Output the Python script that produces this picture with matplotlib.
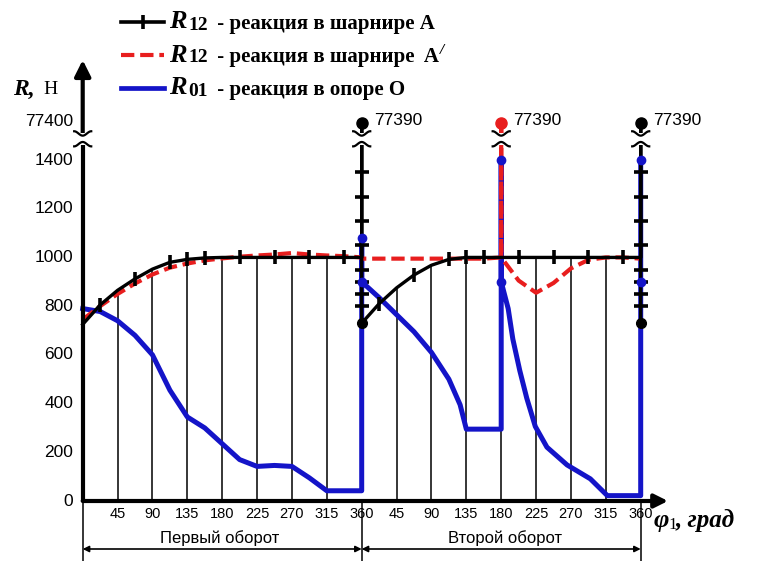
import numpy as np
import matplotlib
matplotlib.use('Agg')
import matplotlib.pyplot as plt
from matplotlib.patches import Rectangle

# ---- data ----
phi_deg = [0, 22.5, 45, 67.5, 90, 112.5, 135, 157.5, 180,
           202.5, 225, 247.5, 270, 292.5, 315, 337.5, 360]

# R12 - reaction in joint A (black)
r12_a_rev1 = [725, 805, 865, 912, 952, 980, 992, 998, 1000,
              1000, 1000, 1000, 1000, 1000, 1000, 1000, 1000]
r12_a_rev2 = [730, 810, 875, 928, 968, 992, 1000, 1000, 1000,
              1000, 1000, 1000, 1000, 1000, 1000, 1000, 1000]
r12_a_marks = [1350, 1250, 1150, 1050, 950, 900, 850, 800]

# R12 - reaction in joint A' (red)
r12_a1_rev1 = [745, 800, 850, 893, 930, 958, 975, 988, 996,
               1003, 1008, 1012, 1018, 1012, 1008, 1005, 1000]
r12_a1_rev2 = [995, 995, 995, 995, 995, 995, 995, 995, 1000,
               905, 855, 895, 955, 990, 1000, 1000, 995]

# R01 - reaction in support O (blue)
r01_rev1 = [790, 778, 740, 680, 600, 455, 345, 300, 235,
            170, 142, 146, 142, 95, 42, 42, 42]
r01_jump_360 = 1080
phi_o_rev2 = [0, 22.5, 45, 67.5, 90, 112.5, 127, 135, 180, 180, 180,
              189, 195, 204, 213, 224, 239, 265, 295, 317, 360, 360]
r01_rev2 = [900, 835, 765, 695, 610, 500, 395, 295, 295, 1400, 900,
            790, 665, 535, 422, 306, 221, 148, 91, 22, 22, 1400]
r01_dots_phi = [360, 360, 540, 540, 720, 720]
r01_dots_r = [1080, 900, 1400, 900, 1400, 900]

R_TOP = 77390
y_ticks = [0, 200, 400, 600, 800, 1000, 1200, 1400]
x_ticks = [45, 90, 135, 180, 225, 270, 315, 360,
           405, 450, 495, 540, 585, 630, 675, 720]

BLUE = '#1414c8'
RED = '#e81e1e'

# ---- broken y scale ----
GAP_LO, GAP_HI = 1462, 1512


def disp(v):
    v = np.asarray(v, dtype=float)
    return np.where(v > 5000, v - 77400 + 1560, v)


def px(x, y):
    # picture pixel -> data coordinates (axes fill the figure)
    return (x - 82.7) / 0.775, (501 - y) / 0.24357


fig = plt.figure(figsize=(7.63, 5.61), dpi=100)
ax = fig.add_axes([0, 0, 1, 1])
x0, y0 = px(0, 561)
x1, y1 = px(763, 0)
ax.set_xlim(x0, x1)
ax.set_ylim(y0, y1)
ax.axis('off')

serif = 'Liberation Serif'
sans = 'Liberation Sans'

# ---- series paths ----
rev2 = [p + 360 for p in phi_deg]
black_x = phi_deg + [360] + rev2 + [720, 720]
black_y = r12_a_rev1 + [R_TOP] + r12_a_rev2 + [R_TOP, r12_a_rev2[0]]
mk = [1, 3, 5, 6, 7, 9, 11, 13, 15]
black_marks = mk + [i + 18 for i in mk]

red_x = phi_deg + rev2[:9] + [540] + rev2[8:]
red_y = r12_a1_rev1 + r12_a1_rev2[:9] + [R_TOP] + r12_a1_rev2[8:]

blue_x = phi_deg + [360] + [p + 360 for p in phi_o_rev2]
blue_y = r01_rev1 + [r01_jump_360] + r01_rev2

# drop lines from the black curve
drops = [x for x in x_ticks if x not in (360, 720)]
for x in drops:
    if x < 360:
        top = np.interp(x, phi_deg, r12_a_rev1)
    else:
        top = np.interp(x, rev2, r12_a_rev2)
    ax.plot([x, x], [0, top], color='black', lw=1.1, zorder=1)

ax.plot(blue_x, disp(blue_y), color=BLUE, lw=3.6, zorder=3,
        solid_joinstyle='round')
ax.plot(red_x, disp(red_y), color=RED, lw=3.0, dashes=(3.2, 1.4), zorder=4)
ax.plot(black_x, disp(black_y), color='black', lw=2.4, zorder=5,
        marker='|', markersize=10, markeredgewidth=2.6, markevery=black_marks)
for xv in (360, 720):
    ax.plot([xv] * len(r12_a_marks), r12_a_marks, ls='none', marker='_',
            markersize=10, markeredgewidth=2.6, color='black', zorder=5)
    ax.plot(xv, r12_a_rev2[0], 'o', color='black', markersize=7, zorder=6)
    ax.plot(xv, disp(R_TOP), 'o', color='black', markersize=8, zorder=9)
ax.plot(540, disp(R_TOP), 'o', color=RED, markersize=8, zorder=9)
ax.plot(r01_dots_phi, r01_dots_r, 'o', color=BLUE, markersize=6, zorder=6)

for xv in (360, 540, 720):
    ax.text(xv + 16, disp(R_TOP) + 12, str(R_TOP), fontsize=12.5,
            family=sans, ha='left', va='center', zorder=10)

# ---- axes ----
ax.plot([0, 0], [0, GAP_LO], color='black', lw=3, zorder=6,
        solid_capstyle='butt')
ax.annotate('', xy=(0, px(0, 60)[1]), xytext=(0, GAP_HI),
            arrowprops=dict(arrowstyle='-|>', lw=3, color='black',
                            mutation_scale=24, shrinkA=0, shrinkB=0),
            zorder=6)
ax.annotate('', xy=(px(668, 0)[0], 0), xytext=(0, 0),
            arrowprops=dict(arrowstyle='-|>', lw=3, color='black',
                            mutation_scale=20, shrinkA=0, shrinkB=0),
            zorder=6)

# break marks
t = np.linspace(-1, 1, 40)
bump = (np.cos(np.pi * t) + 1) / 2
for xv in (0, 360, 540, 720):
    ax.add_patch(Rectangle((xv - 10, GAP_LO), 20, GAP_HI - GAP_LO,
                           facecolor='white', edgecolor='none', zorder=7))
    ax.plot(xv + 11 * t, GAP_LO - 6 + 18 * bump, color='black', lw=1.6,
            zorder=8)
    ax.plot(xv + 11 * t, GAP_HI + 6 - 18 * bump, color='black', lw=1.6,
            zorder=8)

# tick labels
for v in y_ticks:
    ax.text(-12, v, str(v), ha='right', va='center', fontsize=12.5,
            family=sans)
ax.text(-12, disp(77400), '77400', ha='right', va='center', fontsize=12.5,
        family=sans)
for x in x_ticks:
    lab = x if x <= 360 else x - 360
    ax.text(x, px(0, 514)[1], str(lab), ha='center', va='center',
            fontsize=10.5, family=sans)

# revolution dimension lines
ybot = px(0, 561)[1]
for xv in (0, 360, 720):
    ax.plot([xv, xv], [0, ybot], color='black', lw=1.1, zorder=2)
yarr = px(0, 549)[1]
for a, b in ((0, 360), (360, 720)):
    ax.annotate('', xy=(a, yarr), xytext=(b, yarr),
                arrowprops=dict(arrowstyle='<|-|>', lw=1.2, color='black',
                                mutation_scale=9, shrinkA=0, shrinkB=0))
ylab = px(0, 538)[1]
ax.text(177, ylab, 'Первый оборот', ha='center', va='center',
        fontsize=12, family=sans)
ax.text(545, ylab, 'Второй оборот', ha='center', va='center',
        fontsize=12, family=sans)

# axis titles
ax.text(*px(13, 89), 'R,', ha='left', va='center', fontsize=17,
        family=serif, style='italic', weight='bold')
ax.text(*px(43, 89), 'Н', ha='left', va='center', fontsize=14,
        family=serif)
ax.text(*px(654, 520), 'φ', ha='left', va='center', fontsize=19,
        family=serif, style='italic', weight='bold')
ax.text(*px(668, 525), '1', ha='left', va='center', fontsize=12,
        family=serif)
ax.text(*px(676, 520), ', град', ha='left', va='center', fontsize=18,
        family=serif, style='italic', weight='bold')

# ---- legend ----
rows = [
    (22, 'black', '-', '12', ' - реакция в шарнире А'),
    (55, RED, '--', '12', ' - реакция в шарнире  A'),
    (88, BLUE, '-', '01', ' - реакция в опоре О'),
]
fig.canvas.draw()
renderer = fig.canvas.get_renderer()
for yy, col, ls, sub, txt in rows:
    xa, ya = px(121, yy)
    xb, _ = px(164, yy)
    if ls == '--':
        ax.plot([xa, xb], [ya, ya], color=col, lw=3, dashes=(3.2, 1.4))
    else:
        ax.plot([xa, xb], [ya, ya], color=col, lw=2.6 if col == 'black' else 3.4)
    if col == 'black':
        ax.plot(px(143, yy)[0], ya, marker='|', markersize=10,
                markeredgewidth=2.6, color='black')
    ax.text(*px(169, yy), 'R', ha='left', va='center', fontsize=19,
            family=serif, style='italic', weight='bold')
    ax.text(*px(188, yy + 3), sub, ha='left', va='center', fontsize=14,
            family=serif, weight='bold')
    tt = ax.text(*px(212, yy + 2), txt, ha='left', va='center', fontsize=15,
                 family=serif, weight='bold')
    if txt.endswith('A'):
        # prime mark after A'
        bb = tt.get_window_extent(renderer)
        ax.text(*px(bb.x1 + 1, yy - 4), '/', ha='left', va='center',
                fontsize=11, family=serif, weight='bold', style='italic')

fig.savefig('out.png', dpi=100)
